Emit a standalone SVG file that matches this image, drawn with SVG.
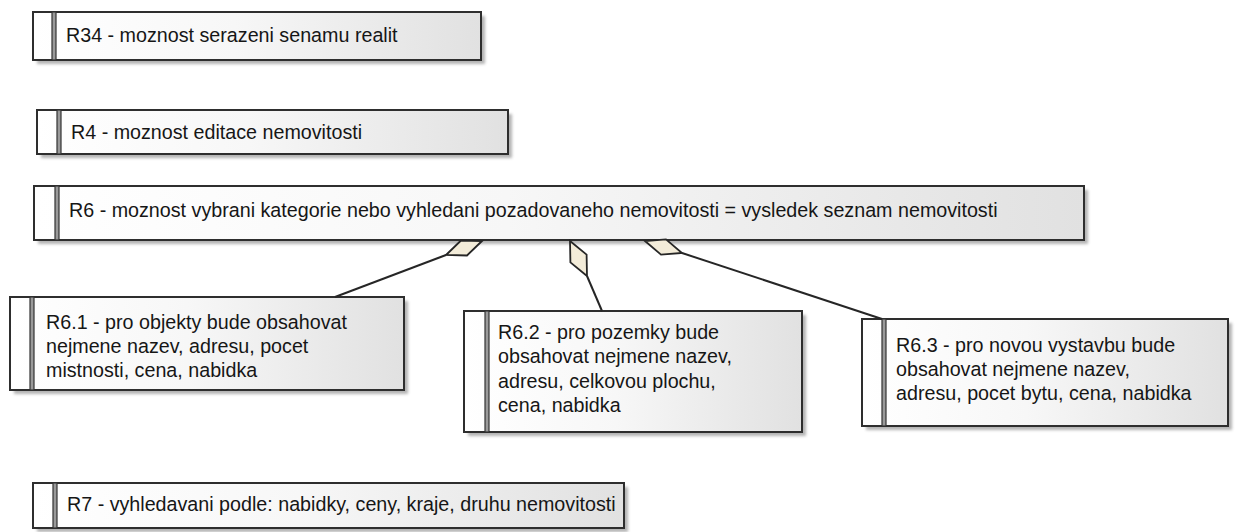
<svg xmlns="http://www.w3.org/2000/svg" width="1239" height="532" viewBox="0 0 1239 532">
  <defs>
    <linearGradient id="boxFill" x1="0" y1="0" x2="1" y2="0">
      <stop offset="0" stop-color="#ffffff"/>
      <stop offset="0.45" stop-color="#f7f7f7"/>
      <stop offset="1" stop-color="#e1e1e1"/>
    </linearGradient>
    <filter id="shadow" x="-5%" y="-20%" width="110%" height="150%">
      <feGaussianBlur stdDeviation="1.6"/>
    </filter>
  </defs>
  <style>
    .shade { fill: #b4b4b4; filter: url(#shadow); }
    .box { fill: url(#boxFill); stroke: #2e2e2e; stroke-width: 2; }
    .bar { fill: #9a9a9a; stroke: #333333; stroke-width: 1.2; }
    .label { font-family: "Liberation Sans", Arial, sans-serif; font-size: 19.7px; fill: #161616; }
    .link { fill: none; stroke: #262626; stroke-width: 2; }
    .agg { fill: #f3ecd9; stroke: #262626; stroke-width: 1.8; stroke-linejoin: miter; }
  </style>

  <rect width="1239" height="532" fill="#ffffff"/>

  <g id="R34">
    <rect class="shade" x="37" y="16" width="448" height="48"/>
    <rect class="box" x="33" y="12" width="448" height="48"/>
    <rect class="bar" x="52" y="12" width="4" height="48"/>
    <text class="label" x="66" y="42">R34 - moznost serazeni senamu realit</text>
  </g>

  <g id="R4">
    <rect class="shade" x="41" y="114" width="471" height="44"/>
    <rect class="box" x="37" y="110" width="471" height="44"/>
    <rect class="bar" x="57" y="110" width="4" height="44"/>
    <text class="label" x="71" y="139">R4 - moznost editace nemovitosti</text>
  </g>

  <g id="R6">
    <rect class="shade" x="38" y="190" width="1050" height="54"/>
    <rect class="box" x="34" y="186" width="1050" height="54"/>
    <rect class="bar" x="55" y="186" width="4" height="54"/>
    <text class="label" x="69" y="217">R6 - moznost vybrani kategorie nebo vyhledani pozadovaneho nemovitosti = vysledek seznam nemovitosti</text>
  </g>

  <g id="R6.1">
    <rect class="shade" x="14" y="301" width="394" height="93"/>
    <rect class="box" x="10" y="297" width="394" height="93"/>
    <rect class="bar" x="30" y="297" width="4" height="93"/>
    <text class="label" x="46" y="329">R6.1 - pro objekty bude obsahovat</text>
    <text class="label" x="46" y="353">nejmene nazev, adresu, pocet</text>
    <text class="label" x="46" y="377">mistnosti, cena, nabidka</text>
  </g>

  <g id="R6.2">
    <rect class="shade" x="468" y="315" width="338" height="121"/>
    <rect class="box" x="464" y="311" width="338" height="121"/>
    <rect class="bar" x="485" y="311" width="4" height="121"/>
    <text class="label" x="498" y="339">R6.2 - pro pozemky bude</text>
    <text class="label" x="498" y="363">obsahovat nejmene nazev,</text>
    <text class="label" x="498" y="388">adresu, celkovou plochu,</text>
    <text class="label" x="498" y="412">cena, nabidka</text>
  </g>

  <g id="R6.3">
    <rect class="shade" x="866" y="323" width="366" height="107"/>
    <rect class="box" x="862" y="319" width="366" height="107"/>
    <rect class="bar" x="882" y="319" width="4" height="107"/>
    <text class="label" x="896" y="352">R6.3 - pro novou vystavbu bude</text>
    <text class="label" x="896" y="376">obsahovat nejmene nazev,</text>
    <text class="label" x="896" y="400">adresu, pocet bytu, cena, nabidka</text>
  </g>

  <g id="R7">
    <rect class="shade" x="37" y="487" width="591" height="45"/>
    <rect class="box" x="33" y="483" width="591" height="45"/>
    <rect class="bar" x="53" y="483" width="4" height="45"/>
    <text class="label" x="67" y="511">R7 - vyhledavani podle: nabidky, ceny, kraje, druhu nemovitosti</text>
  </g>

  <!-- aggregation links from R6 to its sub-requirements -->
  <g id="connectors">
    <line class="link" x1="446" y1="255" x2="335" y2="297"/>
    <polygon class="agg" points="482,241 461,240.5 446,255 467,255.5"/>
    <line class="link" x1="587" y1="276" x2="602" y2="311"/>
    <polygon class="agg" points="570,241 570.4,262.4 587,276 586.6,254.6"/>
    <line class="link" x1="682" y1="253" x2="882" y2="319"/>
    <polygon class="agg" points="645,241 661,254.6 682,253 666,239.4"/>
  </g>
</svg>
